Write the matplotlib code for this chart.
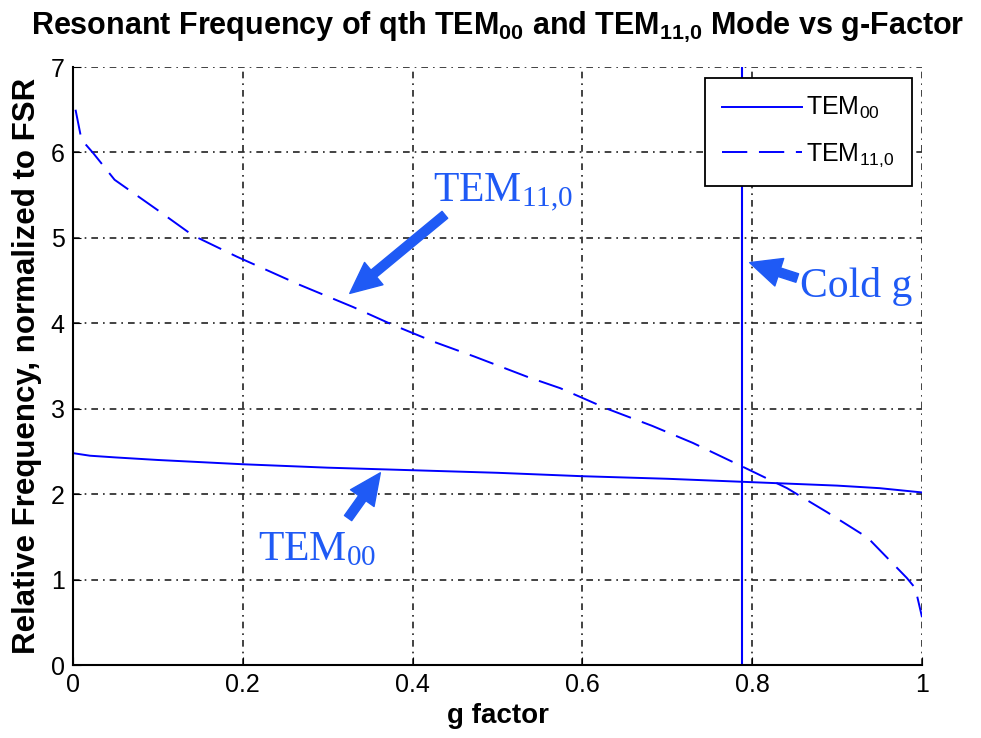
import numpy as np
import matplotlib
matplotlib.use("Agg")
import matplotlib.pyplot as plt

# values
g_00 = [0.0, 0.02, 0.05, 0.1, 0.2, 0.3, 0.4, 0.5, 0.6, 0.7, 0.8, 0.9, 0.95, 1.0]
f_00 = [2.48, 2.45, 2.43, 2.40, 2.35, 2.31, 2.28, 2.25, 2.21, 2.18, 2.14, 2.10, 2.07, 2.02]

g_110 = [0.003, 0.010, 0.024, 0.049, 0.099, 0.141, 0.193, 0.267, 0.330, 0.377,
         0.426, 0.473, 0.536, 0.574, 0.629, 0.682, 0.730, 0.789, 0.841, 0.888,
         0.936, 0.982, 0.992, 1.0]
f_110 = [6.50, 6.15, 5.99, 5.68, 5.33, 5.03, 4.78, 4.45, 4.19, 3.98,
         3.78, 3.61, 3.37, 3.24, 3.00, 2.80, 2.60, 2.32, 2.07, 1.79,
         1.49, 1.02, 0.90, 0.56]

cold_g = 0.788

x_ticks = [0, 0.2, 0.4, 0.6, 0.8, 1]
x_tick_labels = ["0", "0.2", "0.4", "0.6", "0.8", "1"]
y_ticks = [0, 1, 2, 3, 4, 5, 6, 7]

sans = ["Liberation Sans", "DejaVu Sans"]
serif = ["Liberation Serif", "DejaVu Serif"]
note_blue = "#1f5af5"
line_blue = "#0000ff"

fig = plt.figure(figsize=(9.81, 7.38), dpi=100)
ax = fig.add_axes([0.0744, 0.0989, 0.8655, 0.8103])

ax.plot(g_00, f_00, color=line_blue, lw=1.4, label=r"TEM$\mathregular{_{00}}$")
ax.plot(g_110, f_110, color=line_blue, lw=1.4, dashes=(13, 6),
        label=r"TEM$\mathregular{_{11{,}0}}$")
ax.axvline(cold_g, color=line_blue, lw=1.5)

ax.set_xlim(0, 1)
ax.set_ylim(0, 7)
ax.set_xticks(x_ticks)
ax.set_xticklabels(x_tick_labels)
ax.set_yticks(y_ticks)
ax.tick_params(direction="in", length=6, labelsize=18, pad=6)
for lab in ax.get_xticklabels() + ax.get_yticklabels():
    lab.set_family(sans)

ax.grid(True, color="#222222", lw=1.2, dashes=(4, 3, 1, 3))
ax.spines["top"].set_visible(False)
ax.spines["right"].set_visible(False)
ax.spines["left"].set_linewidth(1.5)
ax.spines["bottom"].set_linewidth(1.5)

ax.set_title(r"Resonant Frequency of qth TEM$\mathregular{_{00}}$ and TEM$\mathregular{_{11{,}0}}$ Mode vs g-Factor",
             family=sans, fontsize=22, fontweight="bold", pad=24)
ax.set_xlabel("g factor", family=sans, fontsize=20, fontweight="bold", labelpad=4)
ax.set_ylabel("Relative Frequency, normalized to FSR", family=sans, fontsize=22.5,
              fontweight="bold", labelpad=6)

leg = ax.legend(loc="upper right", bbox_to_anchor=(0.988, 0.982), borderaxespad=0,
                fancybox=False, prop={"family": sans, "size": 18}, handlelength=3.2,
                handletextpad=0.15, borderpad=0.7, labelspacing=0.8)
leg.get_frame().set_edgecolor("black")
leg.get_frame().set_linewidth(1.3)
leg.get_frame().set_alpha(1)

arrow = dict(arrowstyle="simple,head_length=1.4,head_width=1.3,tail_width=0.4",
             color=note_blue, mutation_scale=16, shrinkA=0, shrinkB=0)
ax.annotate("", xy=(0.326, 4.35), xytext=(0.438, 5.27), arrowprops=arrow)
ax.annotate("", xy=(0.362, 2.25), xytext=(0.324, 1.72), arrowprops=arrow)
ax.annotate("", xy=(0.797, 4.71), xytext=(0.853, 4.53), arrowprops=arrow)

ax.text(0.424, 5.42, r"TEM$\mathregular{_{11{,}0}}$", family=serif, fontsize=30,
        color=note_blue, va="baseline")
ax.text(0.218, 1.23, r"TEM$\mathregular{_{00}}$", family=serif, fontsize=30,
        color=note_blue, va="baseline")
ax.text(0.856, 4.31, "Cold g", family=serif, fontsize=30, color=note_blue,
        va="baseline")

fig.savefig("out.png", dpi=100)
